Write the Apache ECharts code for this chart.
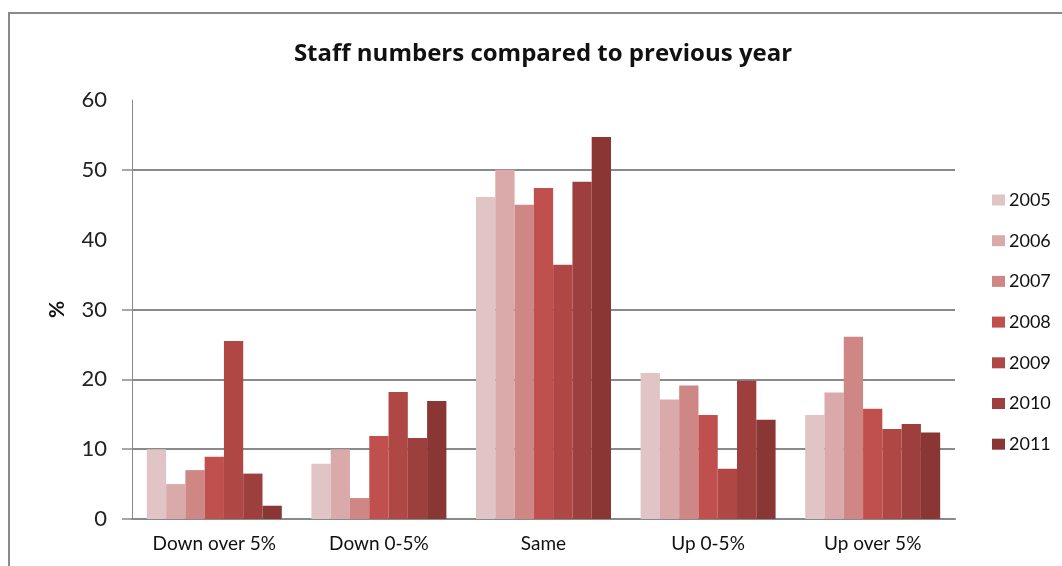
<!DOCTYPE html>
<html>
<head>
<meta charset="utf-8">
<script src="https://cdn.jsdelivr.net/npm/echarts@6/dist/echarts.min.js"></script>
<style>
html,body{margin:0;padding:0;background:#fff;}
#chart{width:1062px;height:566px;}
</style>
</head>
<body>
<div id="chart"></div>
<script>
var categories = ['Down over 5%', 'Down 0-5%', 'Same', 'Up 0-5%', 'Up over 5%'];
var years = ['2005', '2006', '2007', '2008', '2009', '2010', '2011'];
var v2005 = [10.0, 7.9, 46.1, 20.9, 14.9];
var v2006 = [5.0, 10.0, 50.0, 17.1, 18.1];
var v2007 = [7.0, 3.0, 45.0, 19.1, 26.1];
var v2008 = [8.9, 11.9, 47.4, 14.9, 15.8];
var v2009 = [25.5, 18.2, 36.4, 7.2, 12.9];
var v2010 = [6.5, 11.6, 48.3, 19.8, 13.6];
var v2011 = [1.9, 16.9, 54.7, 14.2, 12.4];
var yTicks = [0, 10, 20, 30, 40, 50, 60];
var gridTicks = [0, 10, 20, 30, 50];
var colors = ['#e1c4c5', '#daaaaa', '#ce8784', '#c0504d', '#af4845', '#9c3f3d', '#8a3634'];

var seriesValues = [v2005, v2006, v2007, v2008, v2009, v2010, v2011];
var gridColor = '#8a8a8a';

var chart = echarts.init(document.getElementById('chart'));
chart.setOption({
  animation: false,
  backgroundColor: '#ffffff',
  color: colors,
  title: {
    text: 'Staff numbers compared to previous year',
    left: 538, textAlign: 'center', top: 37,
    textStyle: { fontFamily: 'Open Sans', fontWeight: 'bold', fontSize: 24, color: '#111' }
  },
  legend: {
    orient: 'vertical',
    left: 987, top: 185,
    itemWidth: 13, itemHeight: 11, itemGap: 20.7,
    icon: 'rect',
    textStyle: { fontFamily: 'Lato', fontSize: 18, color: '#111', lineHeight: 20, padding: [0, 0, 0, -1] },
    data: years
  },
  grid: { left: 132, right: 107, top: 100, bottom: 47, containLabel: false },
  xAxis: {
    type: 'category',
    data: categories,
    axisLine: { lineStyle: { color: gridColor, width: 2 } },
    axisTick: { show: false },
    axisLabel: { fontFamily: 'Lato', fontSize: 19, color: '#111', margin: 15 }
  },
  yAxis: {
    type: 'value',
    min: 0, max: 60, interval: 10,
    name: '%',
    nameLocation: 'middle',
    nameRotate: 90,
    nameGap: 64,
    nameTextStyle: { fontFamily: 'Lato', fontWeight: 'bold', fontSize: 21, color: '#111' },
    axisLine: { show: true, lineStyle: { color: gridColor, width: 1 } },
    axisTick: { show: true, length: 10, customValues: gridTicks, lineStyle: { color: gridColor, width: 1.5 } },
    axisLabel: { fontFamily: 'Lato', fontSize: 22, color: '#222', margin: 25, customValues: yTicks,
      formatter: function (v) { return String(v); } },
    splitLine: { show: true, lineStyle: { color: gridColor, width: 2 } }
  },
  graphic: [{
    type: 'polyline',
    shape: { points: [[9, 566], [9, 13], [1062, 13]] },
    style: { stroke: gridColor, lineWidth: 2, fill: null },
    silent: true
  }],
  series: years.map(function (y, i) {
    return {
      name: y,
      type: 'bar',
      data: seriesValues[i],
      barGap: '0%',
      barCategoryGap: '18%'
    };
  })
});
</script>
</body>
</html>
